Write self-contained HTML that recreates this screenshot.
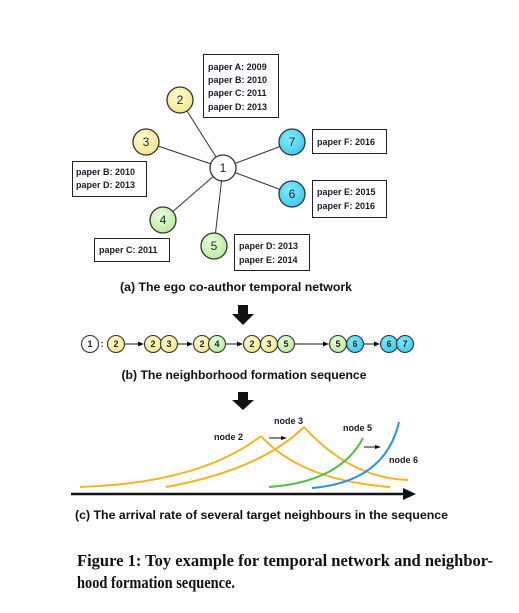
<!DOCTYPE html>
<html><head><meta charset="utf-8"><style>
html,body{margin:0;padding:0;background:#fff;width:519px;height:613px;overflow:hidden}
svg{display:block}
.t{font-family:"Liberation Sans",sans-serif;font-weight:bold;font-size:9px;fill:#1a1a2a}
.n{font-family:"Liberation Sans",sans-serif;font-size:12px;fill:#222;text-anchor:middle}
.s{font-family:"Liberation Sans",sans-serif;font-size:9px;fill:#222;text-anchor:middle;font-weight:bold}
.c{font-family:"Liberation Sans",sans-serif;font-weight:bold;font-size:12px;fill:#111}
.f{font-family:"Liberation Serif",serif;font-weight:bold;font-size:16.5px;fill:#111}
</style></head><body>
<svg width="519" height="613" viewBox="0 0 519 613">
<defs>
<radialGradient id="gy" cx="40%" cy="35%" r="70%"><stop offset="0" stop-color="#fffbd0"/><stop offset="1" stop-color="#f2e68a"/></radialGradient>
<radialGradient id="gg" cx="40%" cy="35%" r="70%"><stop offset="0" stop-color="#e8ffd8"/><stop offset="1" stop-color="#b9e8a0"/></radialGradient>
<radialGradient id="gb" cx="40%" cy="35%" r="70%"><stop offset="0" stop-color="#80eeff"/><stop offset="1" stop-color="#3cc6ee"/></radialGradient>
</defs>
<g stroke="#333" stroke-width="1">
<line x1="223" y1="168" x2="180" y2="100"/><line x1="223" y1="168" x2="146" y2="142"/>
<line x1="223" y1="168" x2="292" y2="142"/><line x1="223" y1="168" x2="292" y2="194"/>
<line x1="223" y1="168" x2="163" y2="220"/><line x1="223" y1="168" x2="214" y2="246"/>
</g>
<g stroke="#333" stroke-width="1.3">
<circle cx="223" cy="168" r="13" fill="#fff"/>
<circle cx="180" cy="100" r="13" fill="url(#gy)"/>
<circle cx="146" cy="142" r="13" fill="url(#gy)"/>
<circle cx="292" cy="142" r="13" fill="url(#gb)"/>
<circle cx="292" cy="194" r="13" fill="url(#gb)"/>
<circle cx="163" cy="220" r="13" fill="url(#gg)"/>
<circle cx="214" cy="246" r="13" fill="url(#gg)"/>
</g>
<text class="n" x="223" y="172">1</text><text class="n" x="180" y="104">2</text><text class="n" x="146" y="146">3</text>
<text class="n" x="292" y="146">7</text><text class="n" x="292" y="198">6</text><text class="n" x="163" y="224">4</text><text class="n" x="214" y="250">5</text>
<g fill="#fff" stroke="#222" stroke-width="1">
<rect x="203.5" y="54.5" width="75" height="63"/>
<rect x="312.5" y="129.5" width="74" height="24"/>
<rect x="72.5" y="161.5" width="74" height="35"/>
<rect x="312.5" y="180.5" width="74" height="37"/>
<rect x="94.5" y="238.5" width="75" height="23"/>
<rect x="234.5" y="234.5" width="75" height="36"/>
</g>
<text class="t" x="208" y="70">paper A: 2009</text>
<text class="t" x="208" y="83">paper B: 2010</text>
<text class="t" x="208" y="96">paper C: 2011</text>
<text class="t" x="208" y="110">paper D: 2013</text>
<text class="t" x="317" y="145">paper F: 2016</text>
<text class="t" x="76" y="175">paper B: 2010</text>
<text class="t" x="76" y="188">paper D: 2013</text>
<text class="t" x="317" y="195">paper E: 2015</text>
<text class="t" x="317" y="209">paper F: 2016</text>
<text class="t" x="99" y="253">paper C: 2011</text>
<text class="t" x="239" y="249">paper D: 2013</text>
<text class="t" x="239" y="263">paper E: 2014</text>
<text class="c" x="236" y="291" text-anchor="middle" textLength="232" lengthAdjust="spacingAndGlyphs">(a) The ego co-author temporal network</text>
<polygon points="238,305 248,305 248,314 254,314 243,325 232,314 238,314" fill="#111"/>
<g stroke="#111" stroke-width="1">
<line x1="125" y1="344" x2="140" y2="344"/><line x1="178" y1="344" x2="189" y2="344"/>
<line x1="226" y1="344" x2="239" y2="344"/><line x1="295" y1="344" x2="325" y2="344"/>
<line x1="364" y1="344" x2="376" y2="344"/>
</g>
<g fill="#111">
<polygon points="144,344 138,341.5 138,346.5"/><polygon points="193,344 187,341.5 187,346.5"/>
<polygon points="243,344 237,341.5 237,346.5"/><polygon points="329,344 323,341.5 323,346.5"/>
<polygon points="380,344 374,341.5 374,346.5"/>
</g>
<g stroke="#333" stroke-width="1.1">
<circle cx="90" cy="344" r="8.5" fill="#fff"/>
<circle cx="116" cy="344" r="8.5" fill="url(#gy)"/>
<circle cx="153" cy="344" r="8.5" fill="url(#gy)"/><circle cx="169" cy="344" r="8.5" fill="url(#gy)"/>
<circle cx="202" cy="344" r="8.5" fill="url(#gy)"/><circle cx="217" cy="344" r="8.5" fill="url(#gg)"/>
<circle cx="252" cy="344" r="8.5" fill="url(#gy)"/><circle cx="269" cy="344" r="8.5" fill="url(#gy)"/><circle cx="286" cy="344" r="8.5" fill="url(#gg)"/>
<circle cx="338" cy="344" r="8.5" fill="url(#gg)"/><circle cx="355" cy="344" r="8.5" fill="url(#gb)"/>
<circle cx="389" cy="344" r="8.5" fill="url(#gb)"/><circle cx="405" cy="344" r="8.5" fill="url(#gb)"/>
</g>
<text class="s" x="90" y="347">1</text><text class="s" x="102" y="347">:</text><text class="s" x="116" y="347">2</text>
<text class="s" x="153" y="347">2</text><text class="s" x="169" y="347">3</text>
<text class="s" x="202" y="347">2</text><text class="s" x="217" y="347">4</text>
<text class="s" x="252" y="347">2</text><text class="s" x="269" y="347">3</text><text class="s" x="286" y="347">5</text>
<text class="s" x="338" y="347">5</text><text class="s" x="355" y="347">6</text>
<text class="s" x="389" y="347">6</text><text class="s" x="405" y="347">7</text>
<text class="c" x="244" y="379" text-anchor="middle" textLength="245" lengthAdjust="spacingAndGlyphs">(b) The neighborhood formation sequence</text>
<polygon points="238,392 248,392 248,400 254,400 243,410 232,400 238,400" fill="#111"/>
<g fill="none" stroke-width="2">
<path d="M80,487 Q200,483 261,436" stroke="#f5b323"/>
<path d="M261,436 Q300,480 390,487" stroke="#f5b323"/>
<path d="M166,487 Q260,470 304,427" stroke="#f5b323"/>
<path d="M304,427 Q350,478 408,480" stroke="#f5b323"/>
<path d="M269,487 Q340,482 363,438" stroke="#4cbf4c"/>
<path d="M312,488 Q385,482 399,422" stroke="#2a8ff0"/>
</g>
<line x1="71" y1="494" x2="404" y2="494" stroke="#111" stroke-width="2.5"/>
<polygon points="416,494 403,488 403,500" fill="#111"/>
<line x1="269" y1="438" x2="282" y2="438" stroke="#111"/><polygon points="287,438 281,436 281,440" fill="#111"/>
<line x1="364" y1="447" x2="376" y2="447" stroke="#111"/><polygon points="381,447 375,445 375,449" fill="#111"/>
<text class="t" x="214" y="440">node 2</text>
<text class="t" x="274" y="424">node 3</text>
<text class="t" x="343" y="431">node 5</text>
<text class="t" x="389" y="463">node 6</text>
<text class="c" x="75" y="519" textLength="373" lengthAdjust="spacingAndGlyphs">(c) The arrival rate of several target neighbours in the sequence</text>
<text class="f" x="77" y="566" textLength="416" lengthAdjust="spacingAndGlyphs">Figure 1: Toy example for temporal network and neighbor-</text>
<text class="f" x="77" y="588" textLength="158" lengthAdjust="spacingAndGlyphs">hood formation sequence.</text>
</svg>
</body></html>
